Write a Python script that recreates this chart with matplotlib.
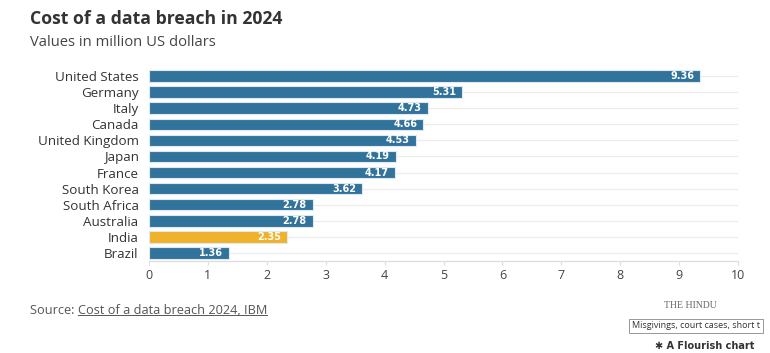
import matplotlib
matplotlib.use("Agg")
import matplotlib.pyplot as plt
from matplotlib.lines import Line2D

countries = ["United States", "Germany", "Italy", "Canada", "United Kingdom", "Japan",
             "France", "South Korea", "South Africa", "Australia", "India", "Brazil"]
values = [9.36, 5.31, 4.73, 4.66, 4.53, 4.19, 4.17, 3.62, 2.78, 2.78, 2.35, 1.36]
highlight = "India"
xticks = [0, 1, 2, 3, 4, 5, 6, 7, 8, 9, 10]

W, H = 770, 353
fig = plt.figure(figsize=(W / 100, H / 100), dpi=100)
fig.patch.set_facecolor("white")
ax = fig.add_axes([149 / W, 1 - 261 / H, (738 - 149) / W, (261 - 68) / H])

blue = "#32739c"
gold = "#efb22a"
colors = [gold if c == highlight else blue for c in countries]
ypos = list(range(len(countries)))

for y in ypos:
    ax.axhline(y, color="#ececec", lw=0.9, zorder=0)

bars = ax.barh(ypos, values, height=0.72, color=colors, edgecolor="#dfe9f0",
               linewidth=0.8, zorder=2)
for y, v in zip(ypos, values):
    ax.text(v - 0.1, y, f"{v:.2f}", ha="right", va="center", color="white",
            fontsize=7, fontweight="bold", family="DejaVu Sans", zorder=3)

ax.set_xlim(0, 10)
ax.set_ylim(len(countries) - 0.5, -0.5)
ax.set_yticks(ypos)
ax.set_yticklabels(countries, family="Open Sans", fontsize=9.6, color="#333333")
ax.tick_params(axis="y", length=0, pad=7.5)
ax.set_xticks(xticks)
ax.set_xticklabels([str(t) for t in xticks], family="Open Sans", fontsize=9, color="#444444")
ax.tick_params(axis="x", length=3, color="#dddddd", pad=3)
for s in ["top", "right", "left"]:
    ax.spines[s].set_visible(False)
ax.spines["bottom"].set_color("#dddddd")
ax.spines["bottom"].set_linewidth(0.9)

fig.text(30 / W, 1 - 19 / H, "Cost of a data breach in 2024", family="Open Sans",
         fontweight="bold", fontsize=12.7, color="#333333", va="center", ha="left")
fig.text(30 / W, 1 - 43 / H, "Values in million US dollars", family="Open Sans",
         fontsize=10.6, color="#444444", va="center", ha="left")

t1 = fig.text(30 / W, 1 - 311 / H, "Source: ", family="Open Sans", fontsize=9.2,
              color="#555555", va="center", ha="left")
fig.canvas.draw()
r = fig.canvas.get_renderer()
bb = t1.get_window_extent(r)
t2 = fig.text(bb.x1 / W, 1 - 311 / H, "Cost of a data breach 2024, IBM", family="Open Sans",
              fontsize=9.2, color="#555555", va="center", ha="left")
fig.canvas.draw()
bb2 = t2.get_window_extent(r)
fig.add_artist(Line2D([bb2.x0 / W, bb2.x1 / W], [bb2.y0 / H + 0.006, bb2.y0 / H + 0.006],
                      color="#555555", lw=0.7))

fig.text(690 / W, 1 - 306 / H, "THE HINDU", family="Liberation Serif", fontsize=7,
         color="#666666", va="center", ha="center")
fig.text(632 / W, 1 - 326 / H, "Misgivings, court cases, short t", family="Open Sans",
         fontsize=6.5, color="#333333", va="center", ha="left",
         bbox=dict(boxstyle="square,pad=0.3", fc="white", ec="#888888", lw=0.6))
fig.text(655 / W, 1 - 346 / H, "✱ A Flourish chart", family="DejaVu Sans",
         fontsize=7, fontweight="bold", color="#333333", va="center", ha="left")

fig.savefig("out.png", dpi=100, facecolor="white")
